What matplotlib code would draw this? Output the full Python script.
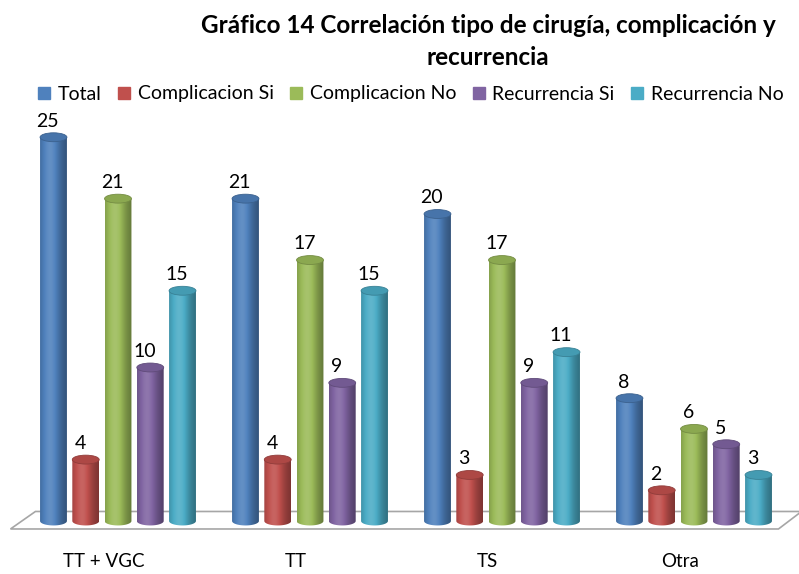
import numpy as np
import matplotlib.pyplot as plt
from matplotlib.patches import Polygon, Ellipse, PathPatch
from matplotlib.path import Path
from matplotlib.lines import Line2D
from matplotlib.colors import to_rgb

## Data
categories = ['TT + VGC', 'TT', 'TS', 'Otra']
series = ['Total', 'Complicacion Si', 'Complicacion No', 'Recurrencia Si', 'Recurrencia No']
total = [25, 21, 20, 8]
comp_si = [4, 4, 3, 2]
comp_no = [21, 17, 17, 6]
rec_si = [10, 9, 9, 5]
rec_no = [15, 15, 11, 3]
colors = ['#4F81BD', '#C0504D', '#9BBB59', '#8064A2', '#4BACC6']
title = 'Gráfico 14 Correlación tipo de cirugía, complicación y\nrecurrencia'

values = [total, comp_si, comp_no, rec_si, rec_no]

plt.rcParams['font.family'] = ['Lato', 'DejaVu Sans']

fig = plt.figure(figsize=(7.99, 5.74), dpi=100)
ax = fig.add_axes([0, 0, 1, 1])
# pixel layout: group spacing 192 px, 15.35 px per unit, baseline at 521 px
ax.set_xlim(-118 / 192, (799 - 118) / 192)
ax.set_ylim((521 - 574) / 15.35, 521 / 15.35)
ax.axis('off')

n = len(categories)
step = 0.168     # bar spacing inside a group
bw = 0.14        # cylinder width
eh = 0.58        # ellipse height (data units)

## floor
floor = Polygon([(-0.56, -0.52), (n - 1 + 0.44, -0.52), (n - 1 + 0.56, 0.62), (-0.43, 0.62)],
                closed=True, facecolor='white', edgecolor='#a6a6a6', lw=1.2, zorder=1)
ax.add_patch(floor)

# horizontal shading across a cylinder
t = np.linspace(0, 1, 60)
shade = 0.76 + 0.36 * np.exp(-((t - 0.38) / 0.34) ** 2) - 0.12 * t ** 3

def shaded(c, s):
    rgb = np.array(to_rgb(c))
    out = np.where(s[:, None] > 1, rgb + (1 - rgb) * (s[:, None] - 1), rgb * s[:, None])
    return np.clip(out, 0, 1)

for j, (vals, c) in enumerate(zip(values, colors)):
    for i, v in enumerate(vals):
        xc = i + (j - 2) * step
        x0, x1 = xc - bw / 2, xc + bw / 2
        # body: rectangle plus lower half ellipse
        th = np.linspace(np.pi, 2 * np.pi, 40)
        bx = xc + bw / 2 * np.cos(th)
        by = eh / 2 * np.sin(th)
        verts = [(x0, v)] + list(zip(bx, by)) + [(x1, v), (x0, v)]
        body = PathPatch(Path(verts), facecolor='none', edgecolor='none', zorder=2)
        ax.add_patch(body)
        img = shaded(c, shade)[None, :, :]
        im = ax.imshow(img, extent=[x0, x1, -eh, v], aspect='auto', zorder=2,
                       interpolation='bilinear')
        im.set_clip_path(body)
        # top cap
        cap = Ellipse((xc, v), bw, eh, facecolor=shaded(c, np.array([0.9]))[0],
                      edgecolor=shaded(c, np.array([0.75]))[0], lw=0.6, zorder=3)
        ax.add_patch(cap)
        ax.text(xc - 0.03, v + 0.5, str(v), ha='center', va='bottom',
                fontsize=14, color='black', zorder=4)

for i, cat in enumerate(categories):
    ax.text(i - 0.075, -2.67, cat, ha='center', va='center', fontsize=13.5)

fig.text(488 / 799, 1 - 14 / 574, title, ha='center', va='top', fontsize=17.5,
         fontweight='bold', linespacing=1.45)

handles = [Line2D([], [], ls='none', marker='s', markersize=9, color=c) for c in colors]
fig.legend(handles, series, loc='center', bbox_to_anchor=(410 / 799, 1 - 94 / 574), ncol=5,
           frameon=False, fontsize=14, handlelength=0.8, handletextpad=0.3,
           columnspacing=0.75, borderaxespad=0)

fig.savefig('out.png', dpi=100)
